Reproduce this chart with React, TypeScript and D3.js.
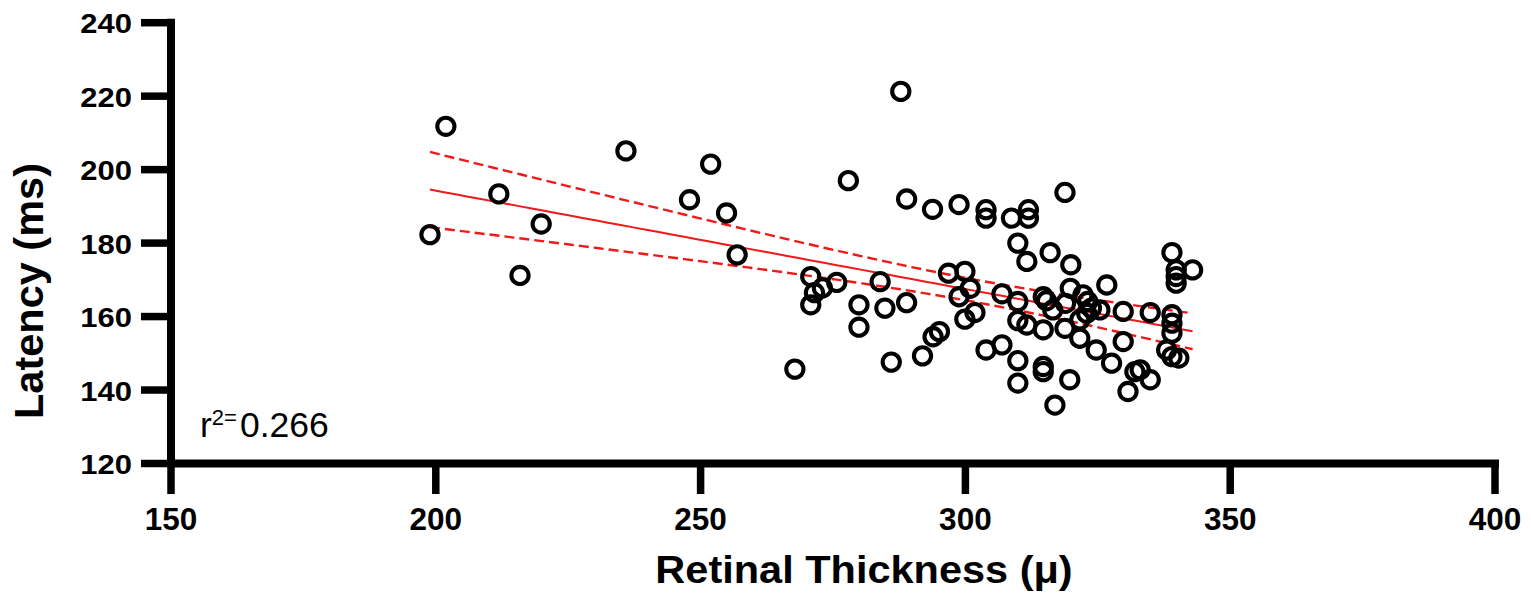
import React from "react";
import * as d3 from "d3";

const thickness: number[] = [
  198.9, 201.9, 211.9, 215.9, 219.9, 235.9, 247.9, 251.9, 254.9, 256.9,
  267.8, 270.8, 271.5, 273.0, 270.8, 275.7, 277.9, 279.9, 279.9, 283.9,
  284.8, 286.0, 287.8, 288.9, 288.9, 291.9, 293.8, 293.9, 295.1, 296.8,
  298.8, 298.8, 299.9, 299.9, 300.9, 301.8, 303.9, 303.9, 303.9, 306.9,
  306.9, 308.7, 309.9, 309.9, 309.9, 309.9, 309.9, 311.6, 311.6, 311.9,
  311.9, 314.7, 315.3, 314.7, 314.7, 314.7, 316.0, 316.5, 316.9, 318.8,
  318.9, 318.8, 319.8, 319.9, 319.7, 321.6, 321.6, 322.2, 322.9, 323.1,
  323.8, 324.7, 325.4, 326.7, 327.6, 329.8, 329.8, 330.7, 332.0, 333.0,
  334.9, 334.9, 338.0, 339.0, 339.0, 339.0, 339.0, 339.0, 339.8, 339.8,
  339.8, 340.3, 342.9,
];
const latency: number[] = [
  182.3, 211.8, 193.4, 171.2, 185.2, 205.1, 191.8, 201.5, 188.2, 176.8,
  145.7, 170.9, 166.5, 167.8, 163.2, 169.3, 197.0, 163.2, 157.1, 169.5,
  162.3, 147.6, 221.3, 192.0, 163.8, 149.3, 189.2, 154.5, 155.9, 171.8,
  190.5, 165.4, 172.3, 159.3, 167.7, 161.1, 189.1, 186.8, 150.9, 166.2,
  152.3, 186.8, 180.0, 164.1, 158.9, 148.0, 141.9, 175.0, 157.7, 189.1,
  186.8, 165.4, 164.3, 156.4, 146.4, 145.0, 177.4, 161.8, 135.9, 193.8,
  163.6, 156.8, 167.7, 174.1, 142.8, 159.1, 154.1, 165.9, 160.9, 164.1,
  162.3, 150.9, 161.8, 168.6, 147.3, 161.4, 153.2, 139.6, 145.0, 145.5,
  161.1, 142.8, 150.9, 177.4, 160.5, 158.2, 155.5, 149.1, 172.7, 170.9,
  169.1, 148.7, 172.7,
];

const xTicks: number[] = [150, 200, 250, 300, 350, 400];
const yTicks: number[] = [120, 140, 160, 180, 200, 220, 240];
const xTitle = "Retinal Thickness (μ)";
const yTitle = "Latency (ms)";
const r2Label = "0.266";
const tCrit = 1.986;

const FONT = "'Liberation Sans', Arial, Helvetica, sans-serif";

export default function App() {
  const x = d3.scaleLinear().domain([150, 400]).range([171, 1495]);
  const y = d3.scaleLinear().domain([120, 240]).range([463.5, 22.7]);

  const pts = thickness.map((t, i) => ({ t, l: latency[i] }));
  const n = pts.length;
  const mx = d3.mean(thickness) as number;
  const my = d3.mean(latency) as number;
  const sxx = d3.sum(thickness, (v) => (v - mx) ** 2);
  const sxy = d3.sum(pts, (p) => (p.t - mx) * (p.l - my));
  const slope = sxy / sxx;
  const icpt = my - slope * mx;
  const sse = d3.sum(pts, (p) => (p.l - (icpt + slope * p.t)) ** 2);
  const s = Math.sqrt(sse / (n - 2));
  const [x0, x1] = d3.extent(thickness) as [number, number];
  const xs = d3.range(0, 61).map((i) => x0 + ((x1 - x0) * i) / 60);
  const fit = (v: number) => icpt + slope * v;
  const half = (v: number) => tCrit * s * Math.sqrt(1 / n + (v - mx) ** 2 / sxx);
  const line = d3
    .line<number[]>()
    .x((d) => x(d[0]))
    .y((d) => y(d[1]));
  const mid = line(xs.map((v) => [v, fit(v)])) as string;
  const up = line(xs.map((v) => [v, fit(v) + half(v)])) as string;
  const lo = line(xs.map((v) => [v, fit(v) - half(v)])) as string;

  const axisW = 8;
  return (
    <svg
      width={1531}
      height={599}
      style={{ position: "absolute", left: 0, top: 0, background: "#fff" }}
      fontFamily={FONT}
    >
      <rect width={1531} height={599} fill="#fff" />
      {/* regression */}
      <path d={mid} fill="none" stroke="#f01818" strokeWidth={2} />
      <path d={up} fill="none" stroke="#f01818" strokeWidth={2.4} strokeDasharray="10,5" />
      <path d={lo} fill="none" stroke="#f01818" strokeWidth={2.4} strokeDasharray="10,5" />
      {/* points */}
      {pts.map((p, i) => (
        <circle key={i} cx={x(p.t)} cy={y(p.l)} r={8.6} fill="none" stroke="#000" strokeWidth={4.1} />
      ))}
      {/* axes */}
      <line x1={x(150)} x2={x(150)} y1={y(240) - 4} y2={y(120)} stroke="#000" strokeWidth={axisW} />
      <line x1={x(150) - 4} x2={x(400) + 4} y1={y(120)} y2={y(120)} stroke="#000" strokeWidth={axisW} />
      {yTicks.map((v) => (
        <g key={"y" + v}>
          <line x1={x(150) - 30} x2={x(150)} y1={y(v)} y2={y(v)} stroke="#000" strokeWidth={7.5} />
          <text
            transform={`translate(132,${y(v) + 10.5}) scale(1,0.9)`}
            textAnchor="end"
            fontSize={31}
            fontWeight="bold"
          >
            {v}
          </text>
        </g>
      ))}
      {xTicks.map((v) => (
        <g key={"x" + v}>
          <line x1={x(v)} x2={x(v)} y1={y(120)} y2={y(120) + 30.5} stroke="#000" strokeWidth={7.5} />
          <text x={x(v)} y={530} textAnchor="middle" fontSize={31.5} fontWeight="bold">
            {v}
          </text>
        </g>
      ))}
      <text transform="translate(864,583) scale(1,0.93)" textAnchor="middle" fontSize={41.5} fontWeight="bold">
        {xTitle}
      </text>
      <text transform="translate(43,291) rotate(-90)" textAnchor="middle" fontSize={41.5} fontWeight="bold">
        {yTitle}
      </text>
      <text x={200} y={436.7} fontSize={35.5}>
        r
        <tspan fontSize={22} dy={-11.7}>2=</tspan>
        <tspan fontSize={35.5} dy={11.7} dx={3}>{r2Label}</tspan>
      </text>
    </svg>
  );
}
